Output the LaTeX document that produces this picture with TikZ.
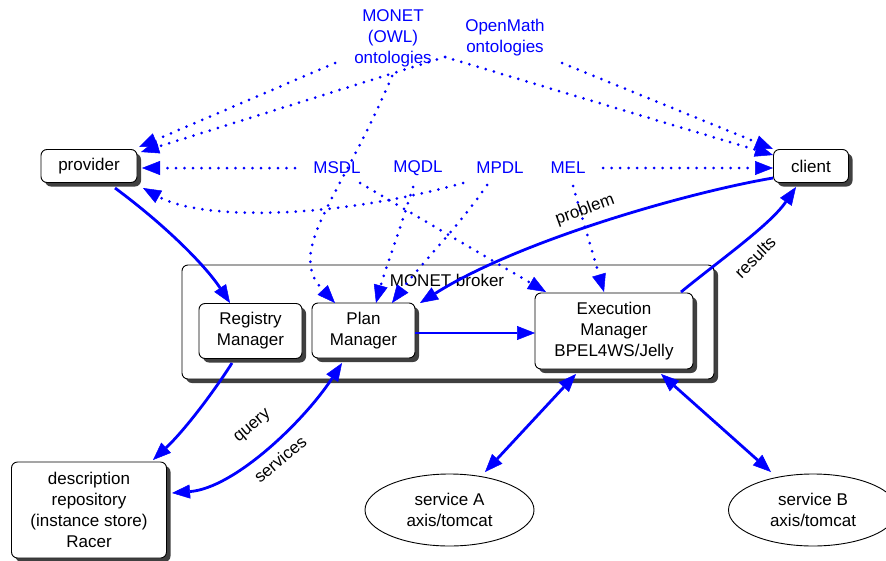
\documentclass[tikz,border=0pt]{standalone}
\usepackage{fontspec}
\setmainfont{Liberation Sans}
\usetikzlibrary{arrows.meta,shadows,shapes.geometric}
\definecolor{lblue}{RGB}{0,0,255}
\definecolor{shade}{RGB}{64,64,64}
\begin{document}
\begin{tikzpicture}[x=1pt,y=-1pt,
  font=\fontsize{17}{21}\selectfont,
  box/.style={draw=black,line width=0.9pt,fill=white,rounded corners=6pt,
     drop shadow={shadow xshift=4pt,shadow yshift=-4pt,fill=shade,opacity=1},
     align=center,inner sep=0pt},
  ell/.style={draw=black,line width=0.9pt,ellipse,align=center,inner sep=0pt},
  lbl/.style={text=lblue,align=center,inner sep=0pt},
  txt/.style={text=black,inner sep=0pt},
  dots/.style={draw=lblue,line width=3pt,line cap=round,dash pattern=on 0pt off 8.5pt,
     -{Triangle[length=18pt,width=14pt,line width=0.5pt]}},
  flow/.style={draw=lblue,line width=2.8pt,
     -{Triangle[length=18pt,width=14pt,line width=0.5pt]}},
  bidir/.style={draw=lblue,line width=2.8pt,
     {Triangle[length=18pt,width=14pt,line width=0.5pt]}-{Triangle[length=18pt,width=14pt,line width=0.5pt]}}
]
\useasboundingbox (0,0) rectangle (886,560);
\clip (0,0) rectangle (886,560);

% boxes
\node[box,minimum width=532pt,minimum height=114pt] (broker) at (448,322) {};
\node[txt] (brokerlbl) at (447,280) {MONET broker};
\node[box,minimum width=103pt,minimum height=55pt] (reg) at (250.5,331) {Registry\\Manager};
\node[box,minimum width=103pt,minimum height=55pt] (plan) at (363.5,330.5) {Plan\\Manager};
\node[box,minimum width=158pt,minimum height=76pt] (exec) at (614,331) {Execution\\Manager\\BPEL4WS/Jelly};
\node[box,minimum width=96pt,minimum height=33pt] (provider) at (89,166) {provider};
\node[box,minimum width=75pt,minimum height=33pt] (client) at (811,166) {client};
\node[box,minimum width=155pt,minimum height=96pt] (desc) at (89,510) {description\\repository\\(instance store)\\Racer};
\node[ell,minimum width=169pt,minimum height=72pt] (servA) at (449.5,510) {service A\\axis/tomcat};
\node[ell,minimum width=169pt,minimum height=72pt] (servB) at (813,510) {service B\\axis/tomcat};

% blue labels
\node[lbl] (mon) at (393,38) {MONET\\(OWL)\\ontologies};
\node[lbl] (om) at (505,38) {OpenMath\\ontologies};
\node[lbl] (msdl) at (337,168) {MSDL};
\node[lbl] (mqdl) at (418,168) {MQDL};
\node[lbl] (mpdl) at (500,168) {MPDL};
\node[lbl] (mel) at (568,168) {MEL};

% connector end points
\coordinate (monL) at (335,63);
\coordinate (apex) at (445,57);
\coordinate (omR) at (562,63);
\coordinate (monB) at (392,76);
\coordinate (provA) at (139,147);
\coordinate (provB) at (141,152);
\coordinate (provC) at (142,168);
\coordinate (provD) at (143,188);
\coordinate (cliA) at (773,149);
\coordinate (cliB) at (773,155);
\coordinate (cliC) at (773,168);
\coordinate (msdlL) at (295,168);
\coordinate (melR) at (603,168);
\coordinate (msdlB) at (360,183);
\coordinate (mqdlB) at (413,187);
\coordinate (mpdlB) at (487,185);
\coordinate (mpdlL) at (463,183);
\coordinate (melB) at (573,186);
\coordinate (planA) at (335,303);
\coordinate (planB) at (376,303);
\coordinate (planC) at (392,303);
\coordinate (execA) at (546,292);
\coordinate (execB) at (604,292);

% dotted connectors
\draw[dots] (monL) -- (provA);
\draw[dots] (apex) -- (provB);
\draw[dots] (apex) -- (cliB);
\draw[dots] (omR) -- (cliA);
\draw[dots] (monB) .. controls (340,200) and (285,250) .. (planA);
\draw[dots] (msdlL) -- (provC);
\draw[dots] (melR) -- (cliC);
\draw[dots] (mpdlL) .. controls (330,220) and (200,220) .. (provD);
\draw[dots] (msdlB) -- (execA);
\draw[dots] (mqdlB) .. controls (400,230) and (385,270) .. (planB);
\draw[dots] (mpdlB) .. controls (460,225) and (420,265) .. (planC);
\draw[dots] (melB) -- (execB);

% solid connectors
\coordinate (provS) at (115,188);
\coordinate (regT) at (230,303);
\coordinate (cliS) at (773,178);
\coordinate (planD) at (420,303);
\coordinate (execC) at (681,292);
\coordinate (cliD) at (796,187);
\coordinate (planR) at (415,333);
\coordinate (execL) at (535,333);
\coordinate (regB) at (232,363);
\coordinate (descT) at (153,460);
\coordinate (planBt) at (342,363);
\coordinate (descR) at (172,493);
\coordinate (execD) at (576,374);
\coordinate (servAT) at (485,472);
\coordinate (execE) at (661,374);
\coordinate (servBT) at (771,472);

\draw[flow] (provS) .. controls (165,225) and (205,265) .. (regT);
\draw[flow] (cliS) .. controls (690,192) and (520,240) .. (planD);
\draw[flow] (execC) .. controls (720,260) and (770,225) .. (cliD);
\draw[flow] (planR) -- (execL);
\draw[flow] (regB) .. controls (215,390) and (185,430) .. (descT);
\draw[bidir] (planBt) .. controls (305,420) and (235,488) .. (descR);
\draw[bidir] (execD) -- (servAT);
\draw[bidir] (execE) -- (servBT);

% connector labels
\node[txt,rotate=20] (lprob) at (585,210) {problem};
\node[txt,rotate=45] (lres) at (755,257) {results};
\node[txt,rotate=40] (lq) at (253,427) {query};
\node[txt,rotate=40] (ls) at (280,459) {services};
\end{tikzpicture}
\end{document}
